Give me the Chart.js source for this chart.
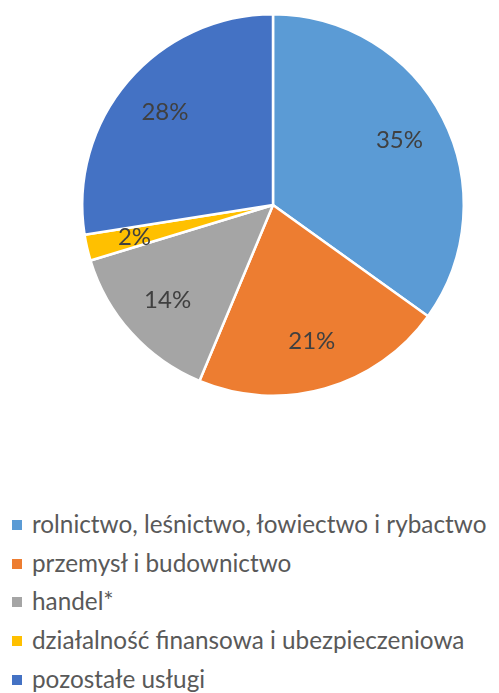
<!DOCTYPE html>
<html>
<head>
<meta charset="utf-8">
<script src="https://cdn.jsdelivr.net/npm/chart.js@4/dist/chart.umd.min.js"></script>
<style>
  html, body { margin: 0; padding: 0; background: #ffffff; }
  #wrap { position: relative; width: 499px; height: 693px; overflow: hidden; }
  #chartBox { position: absolute; left: 0; top: 0; width: 499px; height: 410px; }
  #legend { position: absolute; left: 0; top: 505px; font-family: Lato, "Open Sans", sans-serif; font-size: 24.3px; color: #595959; }
  .li { position: relative; height: 38.7px; line-height: 38.7px; white-space: nowrap; padding-left: 32px; }
  .sw { position: absolute; left: 12px; top: 15px; width: 10px; height: 10px; }
</style>
</head>
<body>
<div id="wrap">
  <div id="chartBox"><canvas id="c"></canvas></div>
  <div id="legend"></div>
</div>
<script>
const categories = [
  "rolnictwo, leśnictwo, łowiectwo i rybactwo",
  "przemysł i budownictwo",
  "handel*",
  "działalność finansowa i ubezpieczeniowa",
  "pozostałe usługi"
];
const shares = [34.9, 21.4, 14.0, 2.2, 27.5];
const colors = ["#5B9BD5", "#ED7D31", "#A5A5A5", "#FFC000", "#4472C4"];

const pieLabels = {
  id: "pieLabels",
  afterDatasetsDraw(chart) {
    const ctx = chart.ctx;
    const meta = chart.getDatasetMeta(0);
    const data = chart.data.datasets[0].data;
    ctx.save();
    ctx.font = "24px Lato, 'Open Sans', sans-serif";
    ctx.fillStyle = "#404040";
    ctx.textAlign = "center";
    ctx.textBaseline = "middle";
    meta.data.forEach((arc, i) => {
      const p = arc.getProps(["x", "y", "startAngle", "endAngle", "outerRadius"], true);
      const mid = (p.startAngle + p.endAngle) / 2;
      const r = p.outerRadius * 0.745;
      const x = p.x + Math.cos(mid) * r;
      const y = p.y + Math.sin(mid) * r;
      ctx.fillText(Math.round(data[i]) + "%", x, y);
    });
    ctx.restore();
  }
};

new Chart(document.getElementById("c"), {
  type: "pie",
  data: {
    labels: categories,
    datasets: [{
      data: shares,
      backgroundColor: colors,
      borderColor: "#ffffff",
      borderWidth: 2.5,
      hoverOffset: 0
    }]
  },
  options: {
    responsive: true,
    maintainAspectRatio: false,
    animation: false,
    layout: { padding: { left: 81, right: 34, top: 13, bottom: 13 } },
    plugins: {
      legend: { display: false },
      tooltip: { enabled: false }
    }
  },
  plugins: [pieLabels]
});

const legend = document.getElementById("legend");
categories.forEach((name, i) => {
  const row = document.createElement("div");
  row.className = "li";
  const sw = document.createElement("span");
  sw.className = "sw";
  sw.style.background = colors[i];
  row.appendChild(sw);
  row.appendChild(document.createTextNode(name));
  legend.appendChild(row);
});
</script>
</body>
</html>
